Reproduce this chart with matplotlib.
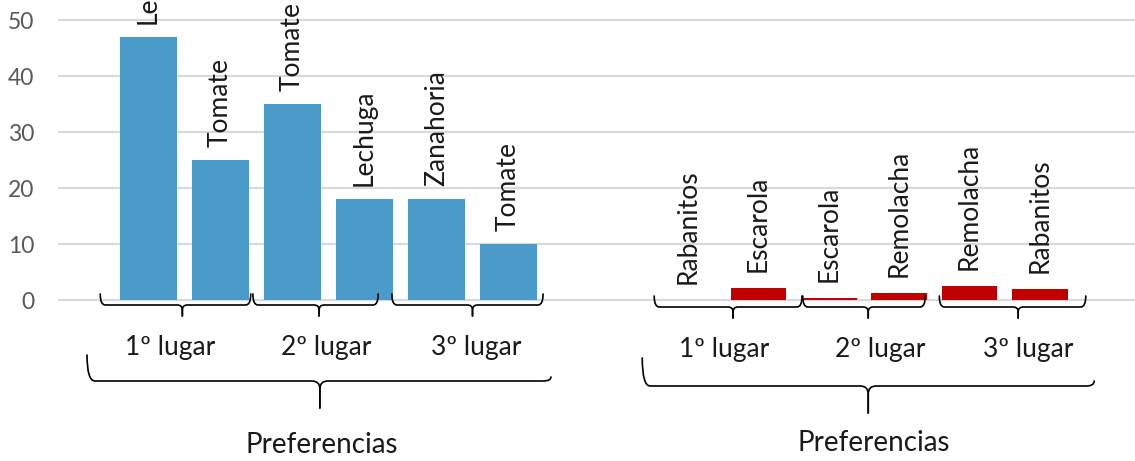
import matplotlib
matplotlib.use("Agg")
import matplotlib.pyplot as plt
from matplotlib.path import Path
from matplotlib.patches import PathPatch
from matplotlib.transforms import Affine2D

# ---- data -------------------------------------------------------------
places = ["1º lugar", "2º lugar", "3º lugar"]
axis_title = "Preferencias"
y_ticks = [0, 10, 20, 30, 40, 50]

most_crops = ["Lechuga", "Tomate", "Tomate", "Lechuga", "Zanahoria", "Tomate"]
most_values = [47, 25, 35, 18, 18, 10]

least_crops = ["Rabanitos", "Escarola", "Escarola", "Remolacha", "Remolacha", "Rabanitos"]
least_values = [0, 2.2, 0.4, 1.3, 2.5, 2.0]

# ---- style ------------------------------------------------------------
BLUE = "#4a9bca"
RED = "#c00000"
GRID = "#d9d9d9"
TICK = "#595959"
TEXT = "#1a1a1a"
FONT = ["Lato", "DejaVu Sans"]
plt.rcParams["font.family"] = FONT

W, H = 1135, 461
fig = plt.figure(figsize=(W / 100, H / 100), dpi=100)
fig.patch.set_facecolor("white")

# pixel (from top-left) -> display transform for the bracket annotations
px = Affine2D().scale(1, -1).translate(0, H)


def add_axes_px(x0, x1, y0, y1):
    return fig.add_axes([x0 / W, 1 - y1 / H, (x1 - x0) / W, (y1 - y0) / H])


def setup(ax, xlim, show_labels):
    ax.set_xlim(*xlim)
    ax.set_ylim(-10 / 5.6, 300 / 5.6)
    ax.set_yticks(y_ticks)
    ax.yaxis.grid(True, color=GRID, lw=1.6)
    ax.set_axisbelow(True)
    ax.set_xticks([])
    for s in ax.spines.values():
        s.set_visible(False)
    ax.tick_params(axis="y", length=0, pad=17, labelsize=16.5, labelcolor=TICK)
    if not show_labels:
        ax.set_yticklabels([])
    ax.patch.set_alpha(0)


def brace(x0, x1, xc, y_line, tip_l, tip_r, y_bot, r):
    left = Path(
        [(x0, tip_l), (x0, y_line), (x0 + r, y_line), (xc - r, y_line),
         (xc, y_line), (xc, y_line + r), (xc, y_bot)],
        [Path.MOVETO, Path.CURVE3, Path.CURVE3, Path.LINETO,
         Path.CURVE3, Path.CURVE3, Path.LINETO])
    right = Path(
        [(xc, y_bot), (xc, y_line + r), (xc, y_line), (xc + r, y_line),
         (x1 - r, y_line), (x1, y_line), (x1, tip_r)],
        [Path.MOVETO, Path.LINETO, Path.CURVE3, Path.CURVE3,
         Path.LINETO, Path.CURVE3, Path.CURVE3])
    for p in (left, right):
        fig.add_artist(PathPatch(p, transform=px, fill=False, ec="black",
                                 lw=1.2, capstyle="round", joinstyle="round"))


def xpix(ax, x):
    return ax.transData.transform((x, 0))[0]


def panel(ax, crops, values, color, label_gap, groups, big, place_x, title_x,
          g_line, g_tip, g_bot, lab_y, big_geom, title_y):
    n = range(len(values))
    ax.bar(list(n), values, width=0.79, color=color)
    for i, (c, v) in enumerate(zip(crops, values)):
        ax.annotate(c, xy=(i, v), xytext=(0, label_gap), textcoords="offset pixels",
                    rotation=90, ha="center", va="bottom", fontsize=19,
                    color=TEXT, annotation_clip=False, clip_on=False)
    for (a, b, c) in groups:
        brace(xpix(ax, a), xpix(ax, b), xpix(ax, c), g_line, g_tip, g_tip, g_bot, 5)
    for name, x in zip(places, place_x):
        fig.text(xpix(ax, x) / W, 1 - lab_y / H, name, ha="center", va="center",
                 fontsize=19, color=TEXT)
    a, b, c = big
    yl, tl, tr, yb = big_geom
    brace(xpix(ax, a), xpix(ax, b), xpix(ax, c), yl, tl, tr, yb, 8)
    fig.text(xpix(ax, title_x) / W, 1 - title_y / H, axis_title, ha="center",
             va="center", fontsize=20, color=TEXT)


ax1 = add_axes_px(58, 590, 0, 310)
setup(ax1, ((58 - 148.5) / 72, (590 - 148.5) / 72), True)
ax2 = add_axes_px(590, 1135, 0, 310)
setup(ax2, ((590 - 688) / 70.4, (1135 - 688) / 70.4), False)

panel(ax1, most_crops, most_values, BLUE, 13,
      [(-0.67, 1.42, 0.47), (1.45, 3.19, 2.37), (3.38, 5.48, 4.50)],
      (-0.854, 5.59, 2.38), [0.30, 2.47, 4.55], 2.40,
      305, 294, 316, 347, (381, 355, 377, 408), 445)

panel(ax2, least_crops, least_values, RED, 16,
      [(-0.48, 1.62, 0.64), (1.63, 3.37, 2.56), (3.57, 5.65, 4.69)],
      (-0.65, 5.77, 2.56), [0.51, 2.73, 4.83], 2.64,
      307, 296, 318, 349, (386, 358, 381, 413), 443)

fig.savefig("out.png", dpi=100)
